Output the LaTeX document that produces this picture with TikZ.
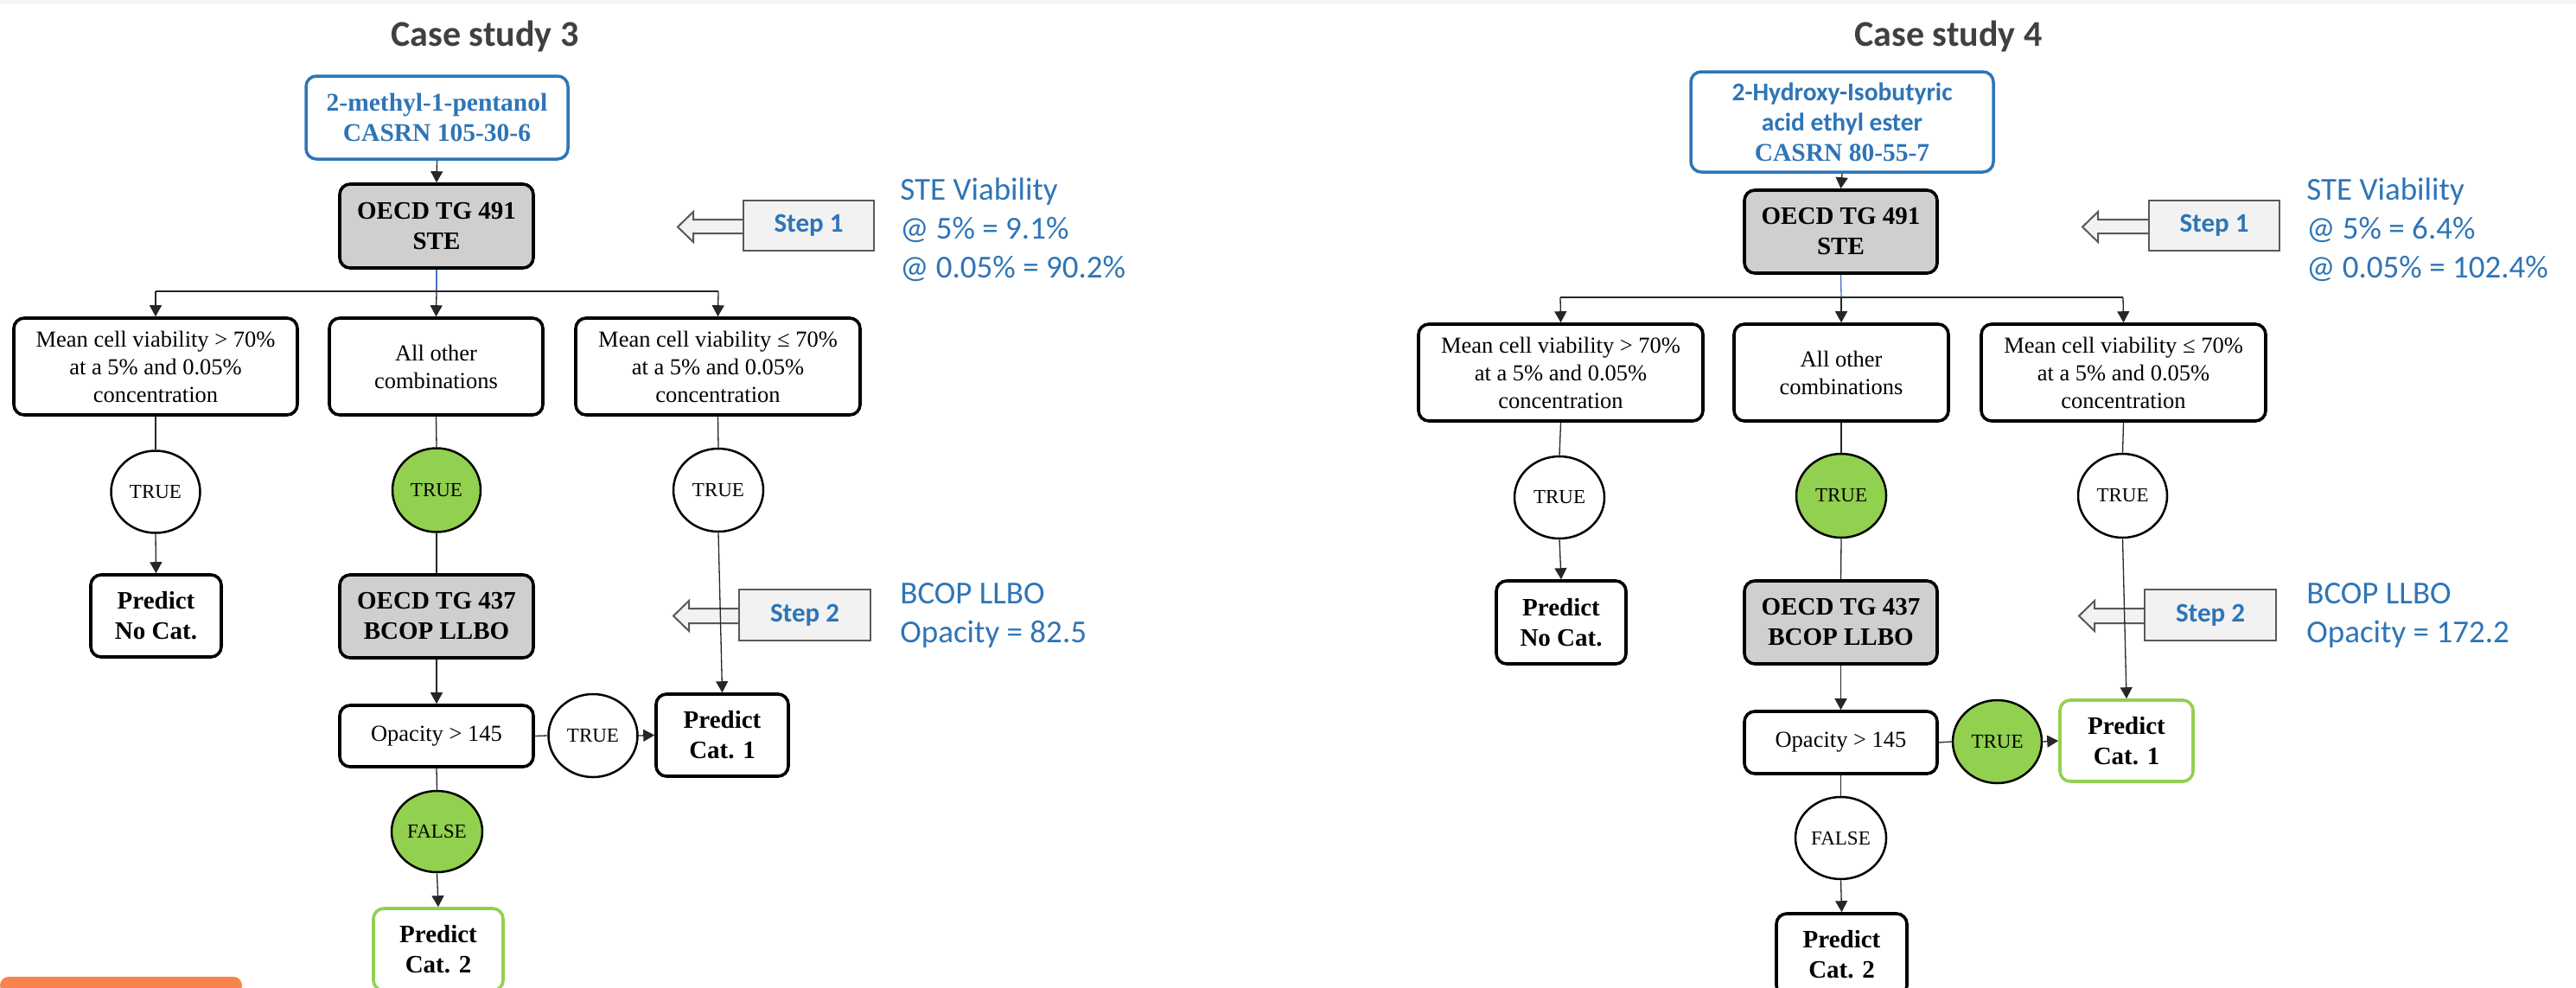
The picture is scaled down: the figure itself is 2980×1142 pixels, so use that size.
\documentclass[tikz,border=0pt]{standalone}
\usepackage{fontspec}
\setmainfont{Liberation Serif}
\newfontfamily\calfont{Carlito}
\usetikzlibrary{arrows.meta,shapes.geometric}
\definecolor{oblue}{HTML}{2E75B6}
\definecolor{lineblue}{HTML}{4472C4}
\definecolor{ogreen}{HTML}{92D050}
\definecolor{ogray}{HTML}{D0CECE}
\definecolor{stepfill}{HTML}{F2F2F2}
\definecolor{stepdraw}{HTML}{595959}
\definecolor{titlegray}{HTML}{404040}
\definecolor{oorange}{HTML}{F8834B}
\begin{document}
\begin{tikzpicture}[x=0.5pt,y=-0.5pt,
  wh/.style 2 args={minimum width=#1*0.5pt, minimum height=#2*0.5pt},
  rbox/.style={inner sep=0pt, align=center, draw=black, line width=1.8pt, rounded corners=6pt, fill=white,
    font=\fontsize{13.25}{16}\selectfont},
  bbox/.style={rbox, font=\bfseries\fontsize{14.5}{17.5}\selectfont},
  gbox/.style={bbox, fill=ogray},
  greenbox/.style={bbox, draw=ogreen},
  chembox/.style={rbox, draw=oblue, line width=1.75pt, text=oblue, font=\bfseries\fontsize{14.75}{17.5}\selectfont},
  oval/.style={ellipse, inner sep=0pt, draw=black, line width=1.25pt, fill=white, font=\fontsize{11.5}{13}\selectfont},
  goval/.style={oval, fill=ogreen},
  stepbox/.style={inner sep=0pt, draw=stepdraw, line width=1pt, fill=stepfill, text=oblue, font=\calfont\bfseries\fontsize{15.5}{18}\selectfont},
  steparrow/.style={draw=stepdraw, line width=1pt, fill=stepfill},
  info/.style={inner sep=0pt, align=left, anchor=west, text=oblue, font=\calfont\fontsize{18.5}{22.5}\selectfont},
  casetitle/.style={inner sep=0pt, anchor=base, text=titlegray, font=\calfont\bfseries\fontsize{21}{25}\selectfont},
  conn/.style={draw=black!85, line width=0.65pt},
  arr/.style={conn, -{Triangle[length=6.5pt,width=7pt]}}
]
\useasboundingbox (0,0) rectangle (2980,1142);
\clip (0,0) rectangle (2980,1142);
\fill[white] (0,0) rectangle (2980,1142);
\fill[black!4] (0,0) rectangle (2980,4);
\fill[oorange, rounded corners=5pt] (0,1150) -- (0,1130) -- (280,1130) -- (280,1150) -- cycle;

% ================= Case study 3 =================
\node[casetitle] (title3) at (561,53) {Case study 3};
\node[chembox, wh={303}{96}] (chem3) at (505.5,136) {2-methyl-1-pentanol\\CASRN 105-30-6};
\node[gbox, wh={224}{97}] (ste3) at (505,261.5) {OECD TG 491\\STE};
\node[rbox, wh={328}{112}] (a3) at (180,424) {Mean cell viability > 70\%\\at a 5\% and 0.05\%\\concentration};
\node[rbox, wh={247}{112}] (b3) at (504.5,424) {All other\\combinations};
\node[rbox, wh={329}{112}] (c3) at (830.5,424) {Mean cell viability ≤ 70\%\\at a 5\% and 0.05\%\\concentration};
\node[oval, wh={103}{95}] (ta3) at (180,569) {TRUE};
\node[goval, wh={102}{97}] (tb3) at (505,567) {TRUE};
\node[oval, wh={104}{96}] (tc3) at (831,567) {TRUE};
\node[bbox, wh={151}{95}] (nocat3) at (180.5,712.5) {Predict\\No Cat.};
\node[gbox, wh={224}{96}] (bcop3) at (505,713) {OECD TG 437\\BCOP LLBO};
\node[rbox, wh={224}{71}] (opac3) at (505,851.5) {Opacity > 145};
\node[oval, wh={103}{96}] (tr3) at (686,851) {TRUE};
\node[bbox, wh={153}{95}] (cat13) at (835.5,850.5) {Predict\\Cat. 1};
\node[goval, wh={105}{94}] (f3) at (505.5,962) {FALSE};
\node[greenbox, wh={150}{95}] (cat23) at (507,1098.5) {Predict\\Cat. 2};

\coordinate (j3) at (505,337);
\coordinate (ja3) at (180,337);
\coordinate (jc3) at (831,337);
\draw[arr] (chem3.south) -- (ste3.north);
\draw[draw=lineblue, line width=0.65pt] (ste3.south) -- (j3);
\draw[conn] (ja3) -- (jc3);
\draw[arr] (ja3) -- (a3.north);
\draw[arr] (j3) -- (b3.north);
\draw[arr] (jc3) -- (c3.north);
\draw[conn] (a3.south) -- (ta3.north);
\draw[arr] (ta3.south) -- (nocat3.north);
\draw[conn] (b3.south) -- (tb3.north);
\draw[conn] (tb3.south) -- (bcop3.north);
\draw[conn] (c3.south) -- (tc3.north);
\draw[arr] (bcop3.south) -- (opac3.north);
\draw[conn] (opac3.east) -- (tr3.west);
\draw[arr] (tr3.east) -- (cat13.west);
\draw[conn] (opac3.south) -- (f3.north);
\draw[arr] (f3.south) -- (cat23.north);

% steps
\draw[steparrow] (860,254) -- (802,254) -- (802,245) -- (784,262.5) -- (802,280) -- (802,270) -- (860,270);
\node[stepbox, wh={151}{58}] (s13) at (935.5,261) {Step 1};
\node[info] (i13) at (1041,266) {STE Viability\\@ 5\% = 9.1\%\\@ 0.05\% = 90.2\%};

\draw[steparrow] (855,704) -- (797,704) -- (797,695) -- (779,712.5) -- (797,730) -- (797,721) -- (855,721);
\node[stepbox, wh={152}{59}] (s23) at (931,711.5) {Step 2};
\node[info] (i23) at (1041,712) {BCOP LLBO\\Opacity = 82.5};
\draw[arr] (tc3.south) -- (cat13.north);

% ================= Case study 4 =================
\node[casetitle] (title4) at (2254,53) {Case study 4};
\node[chembox, wh={350}{116}] (chem4) at (2131,141) {{\calfont 2-Hydroxy-Isobutyric}\\{\calfont acid ethyl ester}\\CASRN 80-55-7};
\node[gbox, wh={223}{96}] (ste4) at (2129.5,268) {OECD TG 491\\STE};
\node[rbox, wh={329}{112}] (a4) at (1805.5,431) {Mean cell viability > 70\%\\at a 5\% and 0.05\%\\concentration};
\node[rbox, wh={248}{112}] (b4) at (2130,431) {All other\\combinations};
\node[rbox, wh={329}{112}] (c4) at (2456.5,431) {Mean cell viability ≤ 70\%\\at a 5\% and 0.05\%\\concentration};
\node[oval, wh={104}{95}] (ta4) at (1804,575.5) {TRUE};
\node[goval, wh={104}{97}] (tb4) at (2130,573.5) {TRUE};
\node[oval, wh={103}{97}] (tc4) at (2455.5,573.5) {TRUE};
\node[bbox, wh={150}{96}] (nocat4) at (1806,720) {Predict\\No Cat.};
\node[gbox, wh={223}{96}] (bcop4) at (2129.5,720) {OECD TG 437\\BCOP LLBO};
\node[rbox, wh={223}{72}] (opac4) at (2129.5,859) {Opacity > 145};
\node[goval, wh={103}{96}] (tr4) at (2310.5,858) {TRUE};
\node[greenbox, wh={154}{94}] (cat14) at (2460,857) {Predict\\Cat. 1};
\node[oval, wh={105}{95}] (f4) at (2129.5,969.5) {FALSE};
\node[bbox, wh={151}{95}] (cat24) at (2130.5,1104.5) {Predict\\Cat. 2};

\coordinate (j4) at (2130,344);
\coordinate (ja4) at (1805,344);
\coordinate (jc4) at (2456,344);
\draw[arr] (chem4.south) -- (ste4.north);
\draw[draw=lineblue, line width=0.65pt] (ste4.south) -- (j4);
\draw[conn] (ja4) -- (jc4);
\draw[arr] (ja4) -- (a4.north);
\draw[arr] (j4) -- (b4.north);
\draw[arr] (jc4) -- (c4.north);
\draw[conn] (a4.south) -- (ta4.north);
\draw[arr] (ta4.south) -- (nocat4.north);
\draw[conn] (b4.south) -- (tb4.north);
\draw[conn] (tb4.south) -- (bcop4.north);
\draw[conn] (c4.south) -- (tc4.north);
\draw[arr] (bcop4.south) -- (opac4.north);
\draw[conn] (opac4.east) -- (tr4.west);
\draw[arr] (tr4.east) -- (cat14.west);
\draw[conn] (opac4.south) -- (f4.north);
\draw[arr] (f4.south) -- (cat24.north);

\draw[steparrow] (2486,254) -- (2427,254) -- (2427,245) -- (2409,262.5) -- (2427,280) -- (2427,270) -- (2486,270);
\node[stepbox, wh={151}{58}] (s14) at (2561.5,261) {Step 1};
\node[info] (i14) at (2668,266) {STE Viability\\@ 5\% = 6.4\%\\@ 0.05\% = 102.4\%};

\draw[steparrow] (2481,704) -- (2423,704) -- (2423,695) -- (2405,712.5) -- (2423,730) -- (2423,721) -- (2481,721);
\node[stepbox, wh={152}{59}] (s24) at (2557,711.5) {Step 2};
\node[info] (i24) at (2668,712) {BCOP LLBO\\Opacity = 172.2};
\draw[arr] (tc4.south) -- (cat14.north);
\end{tikzpicture}
\end{document}
